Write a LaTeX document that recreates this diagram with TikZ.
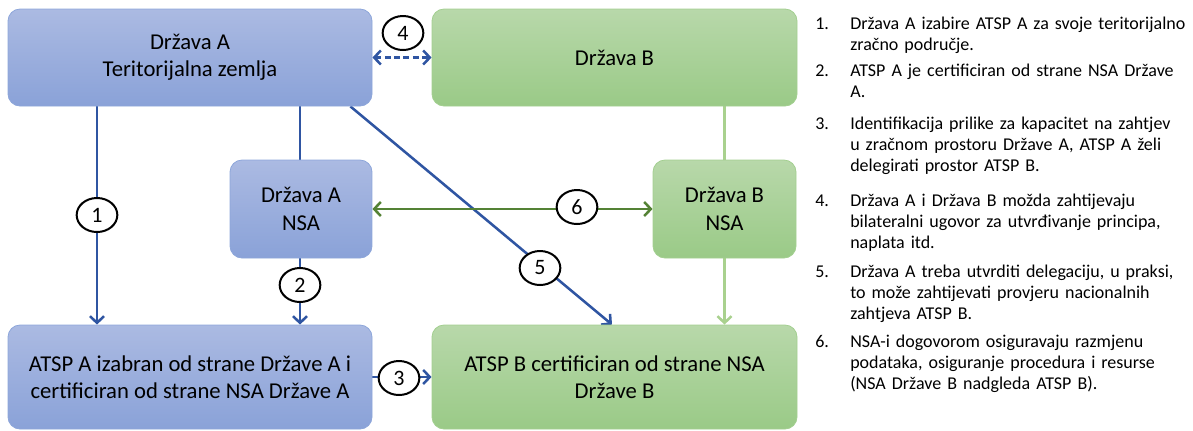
\documentclass[tikz,border=0pt]{standalone}
\usepackage{fontspec}
\setmainfont{Carlito}
\usetikzlibrary{arrows.meta,shapes.geometric,calc}
\pgfdeclarelayer{bg}
\pgfsetlayers{bg,main}
\definecolor{bluetop}{HTML}{ABBAE2}
\definecolor{bluebot}{HTML}{8AA2D8}
\definecolor{blueedge}{HTML}{8DA6DA}
\definecolor{greentop}{HTML}{B8D8AA}
\definecolor{greenbot}{HTML}{9ACA87}
\definecolor{greenedge}{HTML}{A3CF90}
\definecolor{lineblue}{HTML}{2F55A2}
\definecolor{darkgreen}{HTML}{548235}
\definecolor{lightgreen}{HTML}{A9D18E}
\tikzset{
  tip/.tip={Straight Barb[length=5pt,width=10.5pt]},
  boxA/.style={rectangle, rounded corners=9pt, draw=blueedge, line width=0.6pt,
    top color=bluetop, bottom color=bluebot, align=center, inner sep=0pt,
    font=\fontsize{17}{20.5}\selectfont},
  boxB/.style={rectangle, rounded corners=9pt, draw=greenedge, line width=0.6pt,
    top color=greentop, bottom color=greenbot, align=center, inner sep=0pt,
    font=\fontsize{17}{20.5}\selectfont},
  num/.style={ellipse, draw=black, line width=1.5pt, fill=white, inner sep=0pt,
    minimum width=30.5pt, minimum height=25.5pt, font=\fontsize{16.5}{18}\selectfont},
  barr/.style={draw=lineblue, line width=1.9pt, -tip},
  bline/.style={draw=lineblue, line width=1.9pt},
  legnum/.style={anchor=base west, inner sep=0pt, font=\fontsize{13.5}{16.1}\selectfont},
  legtxt/.style={anchor=base west, inner sep=0pt, align=left, text width=270pt,
    font=\fontsize{13.5}{16.1}\selectfont},
}
\begin{document}
\begin{tikzpicture}[x=0.75pt,y=-0.75pt]
\useasboundingbox (0,0) rectangle (1193,430);
% boxes
\node[boxA, minimum width=273pt, minimum height=72.75pt] (tl) at (190,57.5) {Država A\\Teritorijalna zemlja};
\node[boxB, minimum width=273.75pt, minimum height=72.75pt] (tr) at (614.5,57.5) {Država B};
\node[boxA, minimum width=106.5pt, minimum height=73.5pt] (nsaa) at (301,209) {Država A\\NSA};
\node[boxB, minimum width=107.25pt, minimum height=73.5pt] (nsab) at (724.5,209) {Država B\\NSA};
\node[boxA, minimum width=273pt, minimum height=78pt] (atspa) at (190,377) {ATSP A izabran od strane Države A i\\certificiran od strane NSA Države A};
\node[boxB, minimum width=273.75pt, minimum height=78pt] (atspb) at (614.5,377) {ATSP B certificiran od strane NSA\\Države B};
% number labels
\node[num] (n1) at (97,215) {1};
\node[num] (n2) at (300,285) {2};
\node[num] (n3) at (399,378) {3};
\node[num] (n4) at (403,33) {4};
\node[num] (n5) at (540,268) {5};
\node[num] (n6) at (577,207) {6};
% connectors
\begin{pgfonlayer}{bg}
\draw[barr] (tl.south -| n1) -- (atspa.north -| n1);
\draw[bline] (tl.south -| n2) -- (nsaa.north -| n2);
\draw[barr] (nsaa.south -| n2) -- (atspa.north -| n2);
\draw[barr] ($(tl.south east)+(-22,0)$) -- ($(atspb.north)+(-2.5,0)$);
\draw[draw=lineblue, line width=1.9pt, dash pattern=on 4.5pt off 2.5pt, tip-tip] (tl.east) -- (tr.west);
\draw[draw=darkgreen, line width=1.9pt, tip-tip] (nsaa.east) -- (nsab.west);
\draw[barr] (atspa.east) -- (atspb.west);
\draw[draw=lightgreen, line width=1.9pt] (tr.south -| nsab) -- (nsab.north);
\draw[draw=lightgreen, line width=1.9pt, -tip] (nsab.south) -- (atspb.north -| nsab);
\end{pgfonlayer}
% legend
\node[legnum] (l1n) at (815,29) {1.};
\node[legtxt] (l1t) at (850,29) {Država A izabire ATSP A za svoje teritorijalno\\zračno područje.};
\node[legnum] (l2n) at (815,76) {2.};
\node[legtxt] (l2t) at (850,76) {ATSP A je certificiran od strane NSA Države\\A.};
\node[legnum] (l3n) at (815,129) {3.};
\node[legtxt] (l3t) at (850,129) {Identifikacija prilike za kapacitet na zahtjev\\u zračnom prostoru Države A, ATSP A želi\\delegirati prostor ATSP B.};
\node[legnum] (l4n) at (815,206) {4.};
\node[legtxt] (l4t) at (850,206) {Država A i Država B možda zahtijevaju\\bilateralni ugovor za utvrđivanje principa,\\naplata itd.};
\node[legnum] (l5n) at (815,277) {5.};
\node[legtxt] (l5t) at (850,277) {Država A treba utvrditi delegaciju, u praksi,\\to može zahtijevati provjeru nacionalnih\\zahtjeva ATSP B.};
\node[legnum] (l6n) at (815,347) {6.};
\node[legtxt] (l6t) at (850,347) {NSA-i dogovorom osiguravaju razmjenu\\podataka, osiguranje procedura i resurse\\(NSA Države B nadgleda ATSP B).};
\end{tikzpicture}
\end{document}
